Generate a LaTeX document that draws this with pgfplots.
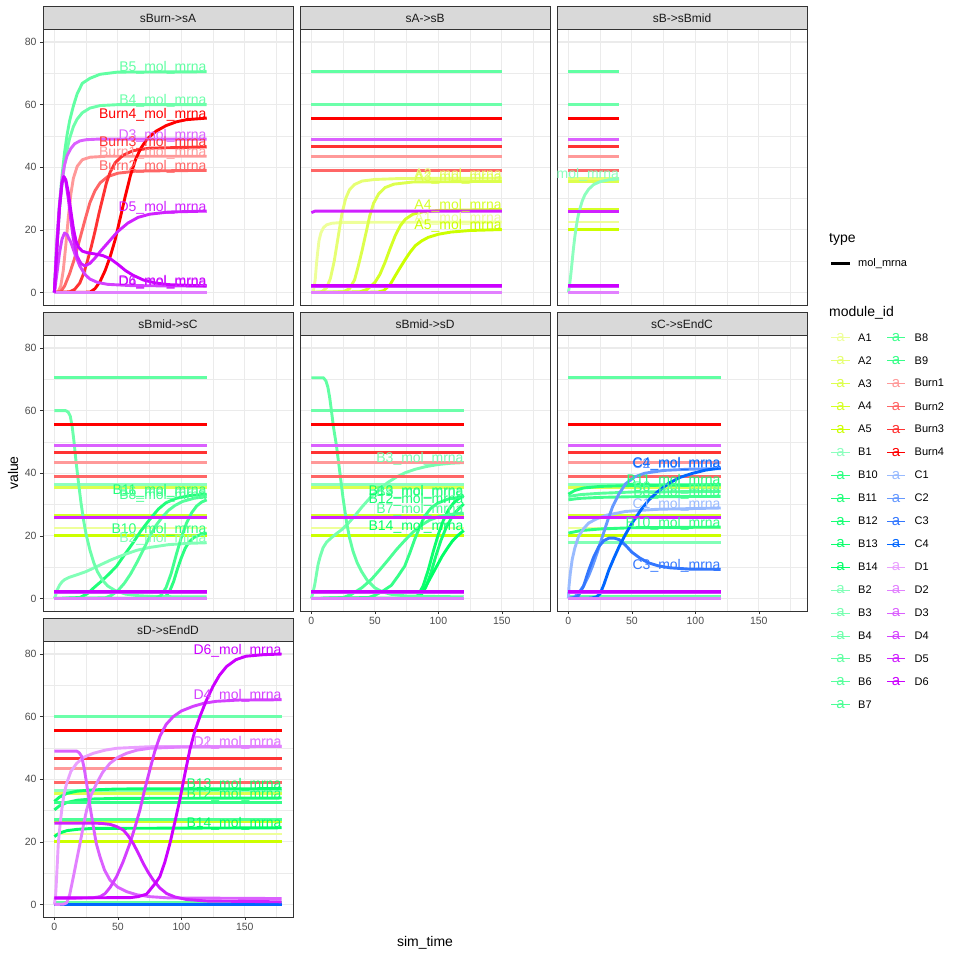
\documentclass[border=0pt]{standalone}
\usepackage{fontspec}
\setmainfont{Liberation Sans}
\usepackage{pgfplots}
\pgfplotsset{compat=1.18}
\definecolor{grey10}{RGB}{26,26,26}
\definecolor{grey20}{RGB}{51,51,51}
\definecolor{grey30}{RGB}{77,77,77}
\definecolor{grey85}{RGB}{217,217,217}
\definecolor{grey92}{RGB}{235,235,235}
\definecolor{cA1}{RGB}{238,255,153}
\definecolor{cA2}{RGB}{230,255,115}
\definecolor{cA3}{RGB}{221,255,77}
\definecolor{cA4}{RGB}{213,255,38}
\definecolor{cA5}{RGB}{204,255,0}
\definecolor{cB1}{RGB}{140,255,190}
\definecolor{cB2}{RGB}{129,255,183}
\definecolor{cB3}{RGB}{118,255,176}
\definecolor{cB4}{RGB}{108,255,170}
\definecolor{cB5}{RGB}{97,255,163}
\definecolor{cB6}{RGB}{86,255,156}
\definecolor{cB7}{RGB}{75,255,149}
\definecolor{cB8}{RGB}{65,255,143}
\definecolor{cB9}{RGB}{54,255,136}
\definecolor{cB10}{RGB}{43,255,129}
\definecolor{cB11}{RGB}{32,255,122}
\definecolor{cB12}{RGB}{22,255,116}
\definecolor{cB13}{RGB}{11,255,109}
\definecolor{cB14}{RGB}{0,255,102}
\definecolor{cBurn1}{RGB}{255,153,153}
\definecolor{cBurn2}{RGB}{255,102,102}
\definecolor{cBurn3}{RGB}{255,51,51}
\definecolor{cBurn4}{RGB}{255,0,0}
\definecolor{cC1}{RGB}{153,187,255}
\definecolor{cC2}{RGB}{102,153,255}
\definecolor{cC3}{RGB}{51,119,255}
\definecolor{cC4}{RGB}{0,102,255}
\definecolor{cD1}{RGB}{234,160,255}
\definecolor{cD2}{RGB}{226,128,255}
\definecolor{cD3}{RGB}{219,96,255}
\definecolor{cD4}{RGB}{212,64,255}
\definecolor{cD5}{RGB}{208,32,255}
\definecolor{cD6}{RGB}{204,0,255}
\newcommand{\lblfont}{\fontsize{14}{16}\selectfont}
\newcommand{\cl}[3]{\addplot[color=#1] coordinates {(0,#2) (#3,#2)};}
\newcommand{\lb}[4]{\node[anchor=base east, inner sep=0pt, text=#1, font=\lblfont] at (axis cs:#2,#3) {#4};}
\newcommand{\Aconst}[1]{\cl{cA1}{22.5}{#1}\cl{cA2}{36.5}{#1}\cl{cA3}{35.5}{#1}\cl{cA4}{26.5}{#1}\cl{cA5}{20.1}{#1}}
\newcommand{\Burnconst}[1]{\cl{cBurn1}{43.5}{#1}\cl{cBurn2}{39}{#1}\cl{cBurn3}{46.5}{#1}\cl{cBurn4}{55.7}{#1}}
\newcommand{\Dconst}[1]{\cl{cD2}{0}{#1}\cl{cD3}{49}{#1}\cl{cD4}{2}{#1}\cl{cD5}{26}{#1}\cl{cD6}{2.1}{#1}}
\pgfplotsset{
 panel/.style={scale only axis, width=250pt, height=275.5pt,
  xmin=-8.95, xmax=187.95, ymin=-4, ymax=84,
  xtick={0,50,100,150}, ytick={0,20,40,60,80},
  minor xtick={25,75,125,175}, minor ytick={10,30,50,70},
  grid=both, major grid style={draw=grey92, line width=1.1pt},
  minor grid style={draw=grey92, line width=0.55pt},
  axis line style={draw=grey20, line width=0.6pt},
  tick align=outside, major tick length=3pt, minor tick length=0pt,
  tick style={draw=grey20, line width=0.6pt},
  tick pos=left,
  ticklabel style={font=\fontsize{10.5}{12}\selectfont, text=grey30},
  /pgf/number format/assume math mode=true,
  every axis plot/.append style={line width=2.9pt, line cap=butt, line join=round},
  clip=true},
 nox/.style={xticklabels={}, xtick style={draw=none}},
 noy/.style={yticklabels={}, ytick style={draw=none}},
}
\begin{document}
\begin{tikzpicture}[x=1pt,y=1pt]
\useasboundingbox (0,0) rectangle (960,-960);
% ---------------- panel 1: sBurn->sA
\begin{axis}[panel, nox, at={(43pt,-305pt)}, anchor=south west]
\addplot[color=cB4] coordinates {(0,0)(2,14.9)(4,26.2)(6,34.6)(8,40.9)(10,45.6)(12,49.2)(15,53)(18,55.4)(22,57.4)(28,58.9)(36,59.7)(50,60)(120,60)};
\addplot[color=cB5] coordinates {(0,0)(2,15.6)(4,27.7)(6,37.2)(8,44.6)(10,50.3)(12,54.8)(15,59.6)(18,63.5)(22,66.8)(28,68.4)(36,69.7)(50,70.4)(120,70.5)};
\addplot[color=cBurn1] coordinates {(0,0)(3,0.3)(5,2)(7,7)(9,15)(11,24)(13,31.5)(15,36.5)(18,40.3)(22,42.4)(28,43.2)(40,43.5)(120,43.5)};
\addplot[color=cBurn2] coordinates {(0,0)(5,0.3)(8,2)(12,6)(16,11)(20,17)(24,23)(28,28.7)(32,32.5)(36,35)(42,37)(50,38.1)(65,38.8)(120,39)};
\addplot[color=cBurn3] coordinates {(0,0)(12,0.2)(16,1)(20,3)(23,6)(26,10)(29,14.5)(32,19.5)(35,25)(38,30)(41,35)(44,38.5)(48,41.5)(54,43.8)(62,45.3)(75,46.1)(120,46.5)};
\addplot[color=cBurn4] coordinates {(0,0)(28,0.1)(32,1.2)(36,3.5)(40,7)(44,11.5)(48,17)(52,24)(56,31)(60,37.5)(64,42.5)(68,46)(73,49)(80,51.5)(88,53.3)(96,54.5)(104,55.2)(120,55.7)};
\cl{cD2}{0}{120}
\addplot[color=cD3] coordinates {(0,0)(1,9.6)(2,17.2)(4,28.1)(6,35.9)(8,40.7)(10,43.7)(13,46)(16,47.5)(20,48.4)(25,48.8)(35,49)(120,49)};
\addplot[color=cD4] coordinates {(0,0)(2,6)(4,12.5)(6,17)(8,19)(10,18.5)(13,16)(16,12.5)(20,8.5)(24,5.8)(28,4.3)(34,3.2)(42,2.6)(60,2.2)(120,2)};
\addplot[color=cD5] coordinates {(0,0)(2,14)(4,27)(6,35)(7.5,37)(9,35.5)(11,30)(13,23)(15,17)(18,11.5)(21,9.2)(24,8.5)(28,9.3)(32,11)(37,13.5)(42,15.8)(50,19.5)(58,22.2)(66,24)(75,25)(90,25.7)(120,26)};
\addplot[color=cD6] coordinates {(0,0)(2,14)(4,27)(6,35)(7.5,37)(9,36)(11,32)(13,26)(15,20.5)(17,16.5)(19,14.5)(22,13.2)(26,12.7)(32,12.3)(38,11.8)(44,10.8)(50,9)(56,7)(62,5.5)(70,4)(80,3)(90,2.5)(120,2.1)};
\lb{cB4}{120}{60}{B4\_mol\_mrna}
\lb{cB5}{120}{70.5}{B5\_mol\_mrna}
\lb{cBurn1}{120}{43.5}{Burn1\_mol\_mrna}
\lb{cBurn2}{120}{39}{Burn2\_mol\_mrna}
\lb{cBurn3}{120}{46.5}{Burn3\_mol\_mrna}
\lb{cBurn4}{120}{55.7}{Burn4\_mol\_mrna}
\lb{cD3}{120}{49}{D3\_mol\_mrna}
\lb{cD4}{120}{2}{D4\_mol\_mrna}
\lb{cD5}{120}{26}{D5\_mol\_mrna}
\lb{cD6}{120}{2.1}{D6\_mol\_mrna}
\end{axis}
% ---------------- panel 2: sA->sB
\begin{axis}[panel, nox, noy, at={(300pt,-305pt)}, anchor=south west]
\addplot[color=cA1] coordinates {(0,0)(1.5,0.2)(3,4)(4,9)(5,13)(6,16.5)(7.5,19)(9.5,20.7)(12,21.6)(16,22.1)(25,22.4)(150,22.5)};
\addplot[color=cA2] coordinates {(0,0)(8,0.2)(12,1.5)(15,4.5)(18,10)(21,17.5)(24,25)(27,30)(30,32.8)(34,34.5)(40,35.6)(50,36.1)(70,36.4)(150,36.5)};
\addplot[color=cA3] coordinates {(0,0)(25,0.2)(30,1.2)(34,4)(37,8.5)(40,13.5)(43,19)(46,24.5)(49,28.5)(53,31.5)(58,33.5)(65,34.6)(80,35.3)(150,35.5)};
\addplot[color=cA4] coordinates {(0,0)(38,0.2)(44,1)(50,3.2)(54,5.8)(58,9.6)(62,14)(66,18.1)(70,21.3)(74,23.4)(80,25)(88,25.8)(100,26.2)(150,26.5)};
\addplot[color=cA5] coordinates {(0,0)(52,0.1)(57,0.6)(62,2.5)(66,5.3)(70,8)(74,10.6)(78,13)(82,15)(87,16.5)(92,17.6)(100,18.6)(110,19.3)(125,19.8)(150,20.1)};
\cl{cB4}{60}{150}
\cl{cB5}{70.5}{150}
\Burnconst{150}
\cl{cD2}{0}{150}
\cl{cD3}{49}{150}
\cl{cD4}{2}{150}
\addplot[color=cD5] coordinates {(0,25.5)(3,26)(150,26)};
\cl{cD6}{2.1}{150}
\lb{cA1}{150}{22.5}{A1\_mol\_mrna}
\lb{cA2}{150}{36.5}{A2\_mol\_mrna}
\lb{cA3}{150}{35.5}{A3\_mol\_mrna}
\lb{cA4}{150}{26.5}{A4\_mol\_mrna}
\lb{cA5}{150}{20.1}{A5\_mol\_mrna}
\end{axis}
% ---------------- panel 3: sB->sBmid
\begin{axis}[panel, nox, noy, at={(557pt,-305pt)}, anchor=south west]
\Aconst{40}
\addplot[color=cB1] coordinates {(0,0)(1,2.5)(2,6)(3,10)(4,14)(5,17.5)(6,20.5)(7,23)(8,25)(9.5,27.3)(11,29.3)(13,31.2)(16,33)(20,34.5)(25,35.4)(32,36)(40,36.3)};
\cl{cB4}{60}{40}
\cl{cB5}{70.5}{40}
\Burnconst{40}
\Dconst{40}
\lb{cB1}{40}{36.3}{B1\_mol\_mrna}
\end{axis}
% ---------------- panel 4: sBmid->sC
\begin{axis}[panel, nox, at={(43pt,-611pt)}, anchor=south west]
\Aconst{120}
\cl{cB1}{36.3}{120}
\addplot[color=cB10] coordinates {(0,0)(84,0.1)(88,0.8)(91,2.5)(94,5.5)(97,9.5)(100,13)(103,16)(106,18)(110,19.5)(115,20.4)(120,20.9)};
\addplot[color=cB11] coordinates {(0,0)(20,0.3)(26,1.5)(31,3.4)(37,5.5)(43,7.8)(49,10.3)(55,13.8)(62,17.8)(68,21.5)(75,25.2)(82,28.6)(88,30.6)(96,32)(107,32.9)(120,33.3)};
\addplot[color=cB2] coordinates {(0,0)(1,1)(2,2.5)(4,4.2)(6,5.3)(8,6)(12,6.8)(18,7.6)(25,8.6)(35,10.5)(45,12.4)(55,14)(65,15.4)(75,16.3)(90,17.2)(105,17.6)(120,17.8)};
\addplot[color=cB4] coordinates {(0,60)(9,60)(11,59.5)(12.5,58.3)(14,55)(15.5,50)(17,44)(19,37)(21,30.5)(23,25)(25,20.5)(28,15.5)(31,11.5)(34,8.5)(38,5.8)(42,4)(48,2.5)(56,1.4)(66,0.9)(80,0.6)(120,0.5)};
\cl{cB5}{70.5}{120}
\addplot[color=cB6] coordinates {(0,0)(40,0.2)(45,1)(50,2.5)(55,4.8)(60,7.8)(65,11.5)(70,15.5)(75,19.7)(80,23.3)(85,26)(90,28.2)(95,29.7)(101,31)(110,32)(120,32.6)};
\addplot[color=cB8] coordinates {(0,0)(80,0.1)(84,1)(88,3.5)(92,8)(96,14)(100,19.5)(104,24)(108,27.3)(112,29.5)(116,30.8)(120,31.5)};
\Burnconst{120}
\Dconst{120}
\lb{cB10}{120}{20.9}{B10\_mol\_mrna}
\lb{cB11}{120}{33.3}{B11\_mol\_mrna}
\lb{cB2}{120}{17.8}{B2\_mol\_mrna}
\lb{cB6}{120}{32.6}{B6\_mol\_mrna}
\lb{cB8}{120}{31.5}{B8\_mol\_mrna}
\end{axis}
% ---------------- panel 5: sBmid->sD
\begin{axis}[panel, noy, at={(300pt,-611pt)}, anchor=south west]
\Aconst{120}
\cl{cB1}{36.3}{120}
\addplot[color=cB12] coordinates {(0,0)(82,0.1)(86,1)(90,3.5)(94,8)(98,13.5)(102,18.5)(106,22.5)(110,25.5)(114,27.8)(117,29)(120,30.2)};
\addplot[color=cB13] coordinates {(0,0)(80,0.1)(84,1)(88,4)(92,9)(96,15)(100,20.5)(104,25)(108,28.3)(112,30.5)(116,31.9)(120,32.9)};
\addplot[color=cB14] coordinates {(0,0)(83,0.1)(87,1.5)(91,4.5)(95,7.5)(99,10.5)(103,13.5)(107,16)(111,18.3)(115,20)(120,21.7)};
\addplot[color=cB3] coordinates {(0,0)(1,1.5)(2.7,4.5)(5.3,10.9)(7,13.5)(9.2,16.2)(12,18)(15.8,19.4)(20,20.8)(24,22)(29,24)(34,26.3)(40,29.3)(47,32.5)(54,35)(60,37)(67,38.8)(74,40.2)(82,41.3)(90,42.1)(100,42.8)(110,43.2)(120,43.4)};
\cl{cB4}{60}{120}
\addplot[color=cB5] coordinates {(0,70.5)(9.5,70.5)(11.5,69.5)(13,67.5)(14.5,64)(15.8,60)(17.5,54.5)(19.7,49)(22.3,40.7)(24.9,32.2)(27.6,24.7)(30,19.5)(32.8,15.1)(36,11.5)(39.4,8.7)(44,5.8)(50,3.4)(56,2.1)(63,1.3)(75,0.8)(120,0.5)};
\addplot[color=cB7] coordinates {(0,0)(25,0.3)(31.5,1.3)(40,3.5)(47.3,6.1)(54,9.2)(60.4,12.3)(67,15.6)(73.5,18.5)(80,21.2)(86.6,23.4)(93,25)(100,26.1)(110,26.9)(120,27.2)};
\addplot[color=cB9] coordinates {(0,0)(45,0.3)(50,1)(56,2.3)(63,4.2)(68,7)(73.5,10.3)(77.5,14.5)(81.4,18.9)(85.5,23)(89.3,26.3)(94,28.8)(99.7,30.5)(108,31.8)(120,32.5)};
\Burnconst{120}
\Dconst{120}
\lb{cB12}{120}{30.2}{B12\_mol\_mrna}
\lb{cB13}{120}{32.9}{B13\_mol\_mrna}
\lb{cB14}{120}{21.7}{B14\_mol\_mrna}
\lb{cB3}{120}{43.4}{B3\_mol\_mrna}
\lb{cB7}{120}{27.2}{B7\_mol\_mrna}
\lb{cB9}{120}{32.5}{B9\_mol\_mrna}
\end{axis}
% ---------------- panel 6: sC->sEndC
\begin{axis}[panel, noy, at={(557pt,-611pt)}, anchor=south west]
\Aconst{120}
\cl{cB1}{36.3}{120}
\addplot[color=cB10] coordinates {(0,20.9)(5,21.3)(10,21.7)(25,22.2)(50,22.6)(120,22.8)};
\addplot[color=cB11] coordinates {(0,33.3)(5,34.5)(12,35.3)(25,35.8)(50,36.1)(120,36.3)};
\cl{cB2}{17.8}{120}
\cl{cB4}{0.5}{120}
\cl{cB5}{70.5}{120}
\addplot[color=cB6] coordinates {(0,32.6)(5,32.9)(10,33.2)(25,33.6)(50,34)(120,34.2)};
\addplot[color=cB8] coordinates {(0,31.5)(5,31.8)(10,32)(25,32.3)(50,32.5)(120,32.6)};
\Burnconst{120}
\addplot[color=cC1] coordinates {(0,0)(0.5,3.9)(1.5,8)(3,12.4)(5,16)(8,19.8)(12,22.3)(16,24.1)(22,25.4)(30,26.6)(45,27.8)(70,28.5)(120,28.9)};
\addplot[color=cC2] coordinates {(0,0)(4,0.2)(8,1.8)(12,4)(16,7.3)(19,10.3)(23,15)(27,20)(31,25)(35,29.5)(40,33.5)(45,36.6)(52,38.8)(60,40)(75,40.9)(95,41.3)(120,41.5)};
\addplot[color=cC3] coordinates {(0,0)(5,0.3)(8,1)(12,4)(16,9)(20,13.3)(24,16.6)(28,18.5)(32,19.3)(36,19.3)(40,18.8)(45,17)(50,14.8)(56,13)(63,11.4)(71,10.4)(80,9.8)(95,9.4)(120,9.3)};
\addplot[color=cC4] coordinates {(0,0)(18,0.1)(22,0.5)(25,1.5)(28,4.5)(32,9.2)(36,13)(40,16.6)(45,20.5)(50,24)(57,28.2)(63,31.3)(70,34)(79,36.8)(88,38.7)(98,40)(108,41)(120,41.7)};
\Dconst{120}
\lb{cB10}{120}{22.8}{B10\_mol\_mrna}
\lb{cB11}{120}{36.3}{B11\_mol\_mrna}
\lb{cB6}{120}{34.2}{B6\_mol\_mrna}
\lb{cB8}{120}{32.6}{B8\_mol\_mrna}
\lb{cC1}{120}{28.9}{C1\_mol\_mrna}
\lb{cC2}{120}{41.5}{C2\_mol\_mrna}
\lb{cC3}{120}{9.3}{C3\_mol\_mrna}
\lb{cC4}{120}{41.7}{C4\_mol\_mrna}
\end{axis}
% ---------------- panel 7: sD->sEndD
\begin{axis}[panel, at={(43pt,-917pt)}, anchor=south west]
\Aconst{179}
\cl{cB1}{36.3}{179}
\addplot[color=cB12] coordinates {(0,30.2)(4,31.5)(10,32.6)(18,33.3)(30,33.7)(50,33.9)(179,34)};
\addplot[color=cB13] coordinates {(0,32.9)(4,34.3)(10,35.5)(18,36.2)(30,36.6)(50,36.9)(179,37)};
\addplot[color=cB14] coordinates {(0,21.7)(4,22.8)(10,23.6)(18,24)(30,24.3)(179,24.5)};
\cl{cB3}{43.4}{179}
\cl{cB4}{60}{179}
\cl{cB5}{0.5}{179}
\cl{cB7}{27.2}{179}
\cl{cB9}{32.5}{179}
\Burnconst{179}
\cl{cC4}{0}{179}
\addplot[color=cD1] coordinates {(0,0)(1,3)(1.8,8.9)(3.1,19.5)(4.5,25.5)(5.8,30.2)(7.5,35)(9.7,38.7)(13,42.5)(17.6,45.1)(23,47)(30.7,48.3)(40,49.3)(49,49.9)(75,50.4)(179,50.5)};
\addplot[color=cD2] coordinates {(0,0)(7,0.1)(9.7,0.5)(12,3)(15,8.9)(17.5,14)(20.2,19.5)(23,25.5)(25.4,30.2)(29,35)(33.3,38.7)(38,42.2)(43.8,45.1)(50,47)(56.9,48.3)(65,49.3)(75.2,49.9)(100,50.3)(179,50.5)};
\addplot[color=cD3] coordinates {(0,49)(17.6,49)(19.5,48.5)(21.5,47.3)(23.5,43.5)(25.4,38.7)(28,31.5)(30.7,24.9)(33,19.5)(35.9,15.3)(39.5,11)(43.8,7.8)(50,5.5)(56.9,4.1)(65,3.1)(75.2,2.5)(90,2.1)(179,1.9)};
\addplot[color=cD4] coordinates {(0,2)(30,2.1)(36,2.5)(40,3.5)(44,5.5)(49,8.9)(54,13.5)(59.5,19.5)(63.5,24.7)(67.4,30.2)(71,36.5)(75.2,43)(79,48.8)(83.1,53.7)(88,57.5)(93.6,60)(100,61.8)(109.3,63.3)(118,64.3)(127.7,64.9)(145,65.3)(179,65.4)};
\addplot[color=cD5] coordinates {(0,26)(30,26)(37,25.9)(43.8,25.6)(49,24.9)(54.3,23.8)(58,22)(62.1,19.5)(66,16.5)(70,13.1)(74,10.2)(77.9,7.8)(83,5.3)(88.4,3.5)(95,2.4)(104,1.6)(120,1.1)(179,0.85)};
\addplot[color=cD6] coordinates {(0,2.1)(60,2.2)(66,2.5)(72.6,3.3)(77,5.5)(80,7)(83.1,8.9)(87,13.5)(91,19.5)(95,26.5)(98.8,33.4)(102.7,41.5)(106.7,49.4)(110.5,55.2)(114.6,60)(119.5,65)(125,69.7)(130,73.2)(135.6,76)(143,78.2)(151,79.3)(165,79.8)(179,80)};
\lb{cB12}{179}{34}{B12\_mol\_mrna}
\lb{cB13}{179}{37}{B13\_mol\_mrna}
\lb{cB14}{179}{24.5}{B14\_mol\_mrna}
\lb{cD1}{179}{50.5}{D1\_mol\_mrna}
\lb{cD2}{179}{50.5}{D2\_mol\_mrna}
\lb{cD4}{179}{65.4}{D4\_mol\_mrna}
\lb{cD6}{179}{80}{D6\_mol\_mrna}
\end{axis}
% ---------------- strips
\foreach \xl/\yt/\name in {43/29.5/{sBurn->sA}, 300/29.5/{sA->sB}, 557/29.5/{sB->sBmid}, 43/335.5/{sBmid->sC}, 300/335.5/{sBmid->sD}, 557/335.5/{sC->sEndC}, 43/641.5/{sD->sEndD}}{
  \draw[fill=grey85, draw=grey20, line width=0.6pt] (\xl,-\yt) rectangle ({\xl+250},{-\yt+23});
  \node[font=\fontsize{12}{14}\selectfont, text=grey10] at ({\xl+125},{-\yt+11.5}) {\name};
}
% ---------------- axis titles
\node[rotate=90, font=\fontsize{14}{16}\selectfont] at (13,-473) {value};
\node[font=\fontsize{14}{16}\selectfont] at (425,-943) {sim\_time};
% ---------------- legend
\node[anchor=base west, inner sep=0pt, font=\fontsize{14}{16}\selectfont] at (829,-242) {type};
\draw[black, line width=3pt] (831,-263.3) -- (850,-263.3);
\node[anchor=west, inner sep=0pt, font=\fontsize{11}{13}\selectfont] at (858,-263.3) {mol\_mrna};
\node[anchor=base west, inner sep=0pt, font=\fontsize{14}{16}\selectfont] at (829,-316) {module\_id};
\foreach \n [count=\i from 0] in {A1,A2,A3,A4,A5,B1,B10,B11,B12,B13,B14,B2,B3,B4,B5,B6,B7}{
  \pgfmathsetmacro{\yy}{-337.3-22.97*\i}
  \draw[color=c\n, line width=0.8pt] (831,\yy) -- (850,\yy);
  \node[text=c\n, inner sep=0pt, font=\fontsize{15}{15}\selectfont] at (840.5,\yy) {a};
  \node[anchor=west, inner sep=0pt, font=\fontsize{11}{13}\selectfont] at (858,\yy) {\n};
}
\foreach \n [count=\i from 0] in {B8,B9,Burn1,Burn2,Burn3,Burn4,C1,C2,C3,C4,D1,D2,D3,D4,D5,D6}{
  \pgfmathsetmacro{\yy}{-337.3-22.97*\i}
  \draw[color=c\n, line width=0.8pt] (887,\yy) -- (905,\yy);
  \node[text=c\n, inner sep=0pt, font=\fontsize{15}{15}\selectfont] at (896,\yy) {a};
  \node[anchor=west, inner sep=0pt, font=\fontsize{11}{13}\selectfont] at (914.5,\yy) {\n};
}
\end{tikzpicture}
\end{document}
